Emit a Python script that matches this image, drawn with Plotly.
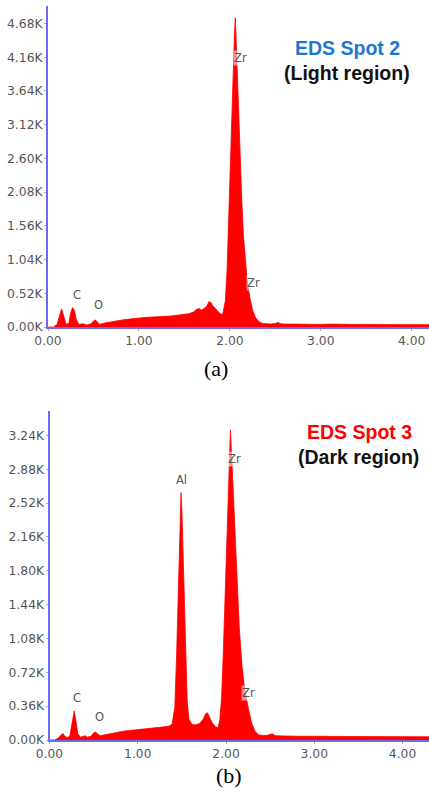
import plotly.graph_objects as go

# ---------------- data: panel (a) EDS Spot 2 ----------------
energy_a = [0.00, 0.06, 0.10, 0.13, 0.15, 0.17, 0.20, 0.23, 0.25, 0.27, 0.29, 0.31, 0.34, 0.38,
            0.40, 0.43, 0.47, 0.50, 0.52, 0.54, 0.57, 0.60, 0.65, 0.70, 0.75, 0.80, 0.85, 0.90,
            0.95, 1.00, 1.05, 1.10, 1.15, 1.20, 1.25, 1.30, 1.35, 1.40, 1.45, 1.50, 1.55, 1.60,
            1.63, 1.66, 1.69, 1.72, 1.75, 1.77, 1.79, 1.81, 1.83, 1.86, 1.89, 1.92, 1.95, 1.97,
            1.99, 2.01, 2.03, 2.05, 2.06, 2.07, 2.09, 2.11, 2.13, 2.15, 2.17, 2.19, 2.22, 2.25,
            2.28, 2.32, 2.36, 2.40, 2.45, 2.50, 2.53, 2.56, 2.60, 2.70, 2.80, 2.90, 3.00, 3.10,
            3.20, 3.30, 3.40, 3.50, 3.60, 3.70, 3.80, 3.90, 4.00, 4.10, 4.20]
counts_a = [0, 0, 40, 200, 280, 180, 40, 60, 220, 300, 260, 120, 40, 50,
            40, 30, 50, 90, 110, 80, 40, 55, 70, 80, 95, 105, 115, 125,
            135, 140, 145, 150, 152, 158, 160, 165, 170, 178, 185, 195, 205, 230,
            270, 285, 260, 290, 330, 390, 380, 330, 300, 250, 210, 190, 400, 900,
            1700, 2600, 3600, 4500, 4770, 4400, 3500, 2600, 2000, 1400, 1000, 720, 450, 260,
            150, 80, 55, 50, 45, 55, 70, 50, 45, 45, 40, 45, 40, 45,
            40, 40, 38, 40, 38, 40, 36, 38, 36, 38, 36]

# ---------------- data: panel (b) EDS Spot 3 ----------------
energy_b = [0.00, 0.06, 0.10, 0.13, 0.15, 0.17, 0.20, 0.23, 0.25, 0.27, 0.28, 0.30, 0.32, 0.35,
            0.38, 0.40, 0.43, 0.47, 0.50, 0.52, 0.55, 0.58, 0.60, 0.65, 0.70, 0.75, 0.80, 0.85,
            0.90, 0.95, 1.00, 1.05, 1.10, 1.15, 1.20, 1.25, 1.30, 1.35, 1.39, 1.42, 1.44, 1.46,
            1.48, 1.49, 1.50, 1.52, 1.54, 1.56, 1.58, 1.61, 1.65, 1.70, 1.74, 1.77, 1.79, 1.81,
            1.84, 1.88, 1.91, 1.93, 1.95, 1.97, 1.99, 2.01, 2.03, 2.05, 2.07, 2.09, 2.11, 2.13,
            2.15, 2.18, 2.21, 2.25, 2.29, 2.33, 2.37, 2.42, 2.47, 2.50, 2.53, 2.56, 2.60, 2.70,
            2.80, 2.90, 3.00, 3.10, 3.20, 3.30, 3.40, 3.50, 3.60, 3.70, 3.80, 3.90, 4.00, 4.10,
            4.20, 4.31]
counts_b = [0, 0, 20, 50, 70, 45, 25, 40, 150, 300, 310, 200, 70, 30,
            35, 45, 30, 40, 75, 85, 60, 45, 50, 60, 70, 80, 90, 95,
            100, 105, 110, 115, 118, 120, 125, 130, 135, 145, 170, 350, 900, 1700,
            2400, 2630, 2450, 1700, 900, 420, 220, 170, 160, 175, 220, 280, 290, 250,
            190, 140, 130, 220, 450, 950, 1500, 2100, 2800, 3300, 2900, 2450, 1950, 1550,
            1200, 800, 550, 350, 180, 90, 55, 48, 50, 60, 65, 45, 42, 42,
            40, 42, 38, 40, 38, 38, 36, 38, 36, 36, 35, 36, 34, 35,
            34, 34]

# ---------------- tick labels ----------------
xtick_vals = [0, 1, 2, 3, 4]
xtick_text = ["0.00", "1.00", "2.00", "3.00", "4.00"]
ytick_vals_a = [0, 520, 1040, 1560, 2080, 2600, 3120, 3640, 4160, 4680]
ytick_text_a = ["0.00K", "0.52K", "1.04K", "1.56K", "2.08K", "2.60K", "3.12K", "3.64K", "4.16K", "4.68K"]
ytick_vals_b = [0, 360, 720, 1080, 1440, 1800, 2160, 2520, 2880, 3240]
ytick_text_b = ["0.00K", "0.36K", "0.72K", "1.08K", "1.44K", "1.80K", "2.16K", "2.52K", "2.88K", "3.24K"]

# element labels (energy, counts, text)
labels_a = [(0.32, 490, "C"), (0.56, 340, "O"), (2.12, 4150, "Zr"), (2.26, 680, "Zr")]
labels_b = [(0.31, 450, "C"), (0.57, 250, "O"), (1.50, 2770, "Al"), (2.10, 2990, "Zr"), (2.25, 500, "Zr")]

W, H = 429, 792
RED = "#ff0000"
AXIS_BLUE = "#6b6bf2"

fig = go.Figure()
fig.add_trace(go.Scatter(x=energy_a, y=counts_a, mode="lines", fill="tozeroy",
                         line=dict(color=RED, width=0.8), fillcolor=RED,
                         xaxis="x", yaxis="y", showlegend=False))
fig.add_trace(go.Scatter(x=energy_b, y=counts_b, mode="lines", fill="tozeroy",
                         line=dict(color=RED, width=0.8), fillcolor=RED,
                         xaxis="x2", yaxis="y2", showlegend=False))

tickfont = dict(family="DejaVu Sans", size=12.3, color="#555555")

def xaxis(domain, rng, anchor):
    return dict(domain=domain, range=rng, anchor=anchor, tickvals=xtick_vals, ticktext=xtick_text,
                showline=True, linecolor=AXIS_BLUE, linewidth=2, showgrid=False, zeroline=False,
                ticks="outside", ticklen=2, tickcolor="#aaaaaa", tickfont=tickfont, fixedrange=True,
                automargin=False, ticklabelstandoff=-1)

def yaxis(domain, rng, anchor, vals, text):
    return dict(domain=domain, range=rng, anchor=anchor, tickvals=vals, ticktext=text,
                showline=True, linecolor=AXIS_BLUE, linewidth=2, showgrid=False, zeroline=False,
                ticks="outside", ticklen=2, tickcolor="#aaaaaa", tickfont=tickfont, fixedrange=True,
                automargin=False, ticklabelstandoff=-1)

fig.update_layout(
    width=W, height=H,
    margin=dict(l=0, r=0, t=0, b=0),
    paper_bgcolor="white", plot_bgcolor="white",
    xaxis=xaxis([48 / W, 1], [0, 4.19], "y"),
    yaxis=yaxis([1 - 327 / H, 1 - 6 / H], [0, 4950], "x", ytick_vals_a, ytick_text_a),
    xaxis2=xaxis([49.5 / W, 1], [0, 4.30], "y2"),
    yaxis2=yaxis([1 - 740 / H, 1 - 411 / H], [0, 3500], "x2", ytick_vals_b, ytick_text_b),
)

annotations = []
for (ex, cy, t) in labels_a:
    annotations.append(dict(x=ex, y=cy, xref="x", yref="y", text=t, showarrow=False,
                            xanchor="center", yanchor="middle",
                            font=dict(family="DejaVu Sans", size=11.5, color="#555555"),
                            bgcolor="rgba(255,255,255,0.55)", borderpad=0))
for (ex, cy, t) in labels_b:
    annotations.append(dict(x=ex, y=cy, xref="x2", yref="y2", text=t, showarrow=False,
                            xanchor="center", yanchor="middle",
                            font=dict(family="DejaVu Sans", size=11.5, color="#555555"),
                            bgcolor="rgba(255,255,255,0.55)", borderpad=0))

title_font = "Liberation Sans"
texts = [
    (347, 48.5, "<b>EDS Spot 2</b>", title_font, 19.5, "#1b78cc"),
    (347, 73.5, "<b>(Light region)</b>", title_font, 19.5, "#111111"),
    (359, 432, "<b>EDS Spot 3</b>", title_font, 19.5, "#ff0000"),
    (358, 457, "<b>(Dark region)</b>", title_font, 19.5, "#111111"),
    (216, 368, "(a)", "Liberation Serif", 22, "#000000"),
    (229, 775, "(b)", "Liberation Serif", 22, "#000000"),
]
for (px, py, t, fam, sz, col) in texts:
    annotations.append(dict(x=px / W, y=1 - py / H, xref="paper", yref="paper", text=t,
                            xanchor="center", yanchor="middle", showarrow=False,
                            font=dict(family=fam, size=sz, color=col)))
fig.update_layout(annotations=annotations)

fig.write_html("out.html", config={"displayModeBar": False},
               post_script="document.body.style.margin='0';document.body.style.overflow='hidden';")
